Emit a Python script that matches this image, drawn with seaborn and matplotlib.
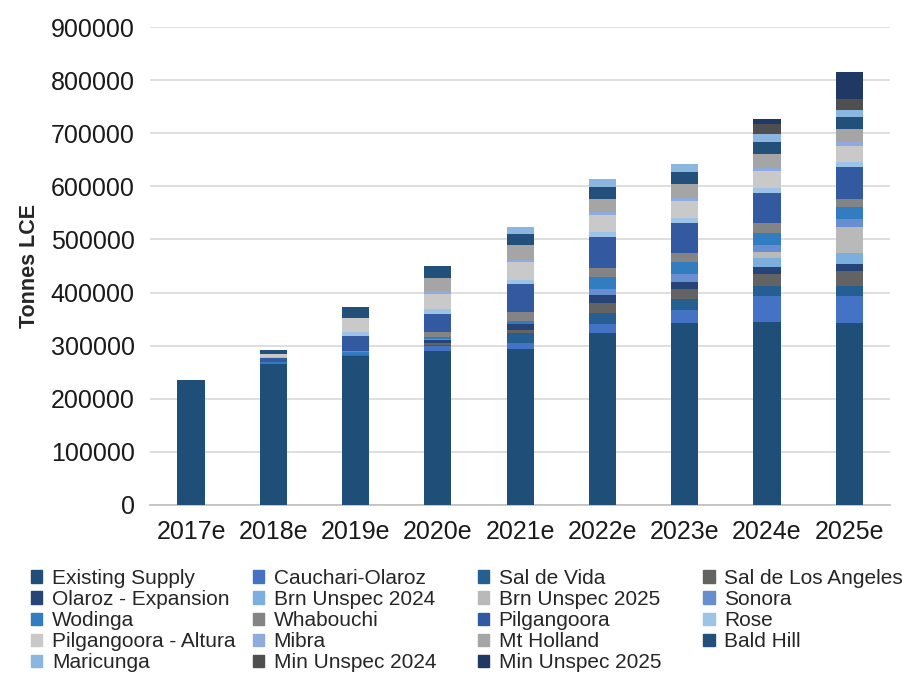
import pandas as pd
import matplotlib.pyplot as plt
import matplotlib.patches as mpatches
import seaborn as sns

years = ["2017e", "2018e", "2019e", "2020e", "2021e", "2022e", "2023e", "2024e", "2025e"]

# tonnes LCE per project, bottom of the stack first
existing_supply = [235000, 266000, 280000, 290000, 293000, 323000, 343000, 344000, 343000]
cauchari_olaroz = [0, 0, 0, 9000, 12500, 17500, 24000, 49500, 50000]
sal_de_vida = [0, 0, 0, 3000, 17500, 20000, 20000, 19500, 19500]
sal_de_los_angeles = [0, 0, 3000, 3500, 6000, 20000, 20500, 21500, 28000]
olaroz_expansion = [0, 0, 0, 4500, 12500, 14500, 11500, 13000, 12500]
brn_unspec_2024 = [0, 0, 0, 0, 0, 0, 0, 18000, 21500]
brn_unspec_2025 = [0, 0, 0, 0, 0, 0, 0, 11500, 49000]
sonora = [0, 0, 0, 2500, 0, 11500, 15000, 12500, 14000]
wodinga = [0, 3000, 5000, 4000, 4500, 23000, 22500, 23000, 24000]
whabouchi = [0, 0, 2000, 9000, 17500, 17000, 17000, 17500, 15500]
pilgangoora = [0, 8000, 28000, 34500, 52000, 58500, 57500, 57500, 58500]
rose = [0, 2000, 8000, 9000, 7500, 9500, 10000, 9500, 10500]
pilgangoora_altura = [0, 5000, 26000, 28000, 34500, 31500, 31500, 31500, 29500]
mibra = [0, 0, 0, 5000, 4500, 6000, 5500, 6500, 8000]
mt_holland = [0, 0, 0, 25000, 27000, 25000, 27000, 25500, 25000]
bald_hill = [0, 8000, 20000, 23000, 20500, 22000, 22000, 23000, 22000]
maricunga = [0, 0, 0, 0, 14000, 14500, 14500, 14500, 14000]
min_unspec_2024 = [0, 0, 0, 0, 0, 0, 0, 20000, 20500]
min_unspec_2025 = [0, 0, 0, 0, 0, 0, 0, 8000, 50000]

names = ["Existing Supply", "Cauchari-Olaroz", "Sal de Vida", "Sal de Los Angeles",
         "Olaroz - Expansion", "Brn Unspec 2024", "Brn Unspec 2025", "Sonora",
         "Wodinga", "Whabouchi", "Pilgangoora", "Rose", "Pilgangoora - Altura",
         "Mibra", "Mt Holland", "Bald Hill", "Maricunga", "Min Unspec 2024",
         "Min Unspec 2025"]
series = [existing_supply, cauchari_olaroz, sal_de_vida, sal_de_los_angeles,
          olaroz_expansion, brn_unspec_2024, brn_unspec_2025, sonora, wodinga,
          whabouchi, pilgangoora, rose, pilgangoora_altura, mibra, mt_holland,
          bald_hill, maricunga, min_unspec_2024, min_unspec_2025]
colors = ["#1F4E79", "#4472C4", "#255E91", "#636363", "#264478", "#7CAFDD",
          "#B9B9B9", "#698ED0", "#327DC2", "#848484", "#335AA1", "#9DC3E6",
          "#C9C9C9", "#8FAADC", "#A5A5A5", "#22507A", "#8AB6E0", "#4F4F4F",
          "#203864"]

sns.set_theme(style="white")
plt.rcParams['font.family'] = ['Liberation Sans', 'DejaVu Sans']

fig = plt.figure(figsize=(9.03, 6.75), dpi=100)
ax = fig.add_axes([0.166, 0.252, 0.820, 0.708])

bottom = [0] * len(years)
for name, vals, col in zip(names, series, colors):
    df = pd.DataFrame({'year': years, 'value': vals})
    sns.barplot(data=df, x='year', y='value', color=col, saturation=1,
                width=0.33, bottom=bottom, errorbar=None, ax=ax, zorder=3,
                edgecolor='none', linewidth=0)
    bottom = [b + v for b, v in zip(bottom, vals)]

ax.set_ylim(0, 900000)
ax.set_yticks(range(0, 900001, 100000))
ax.set_yticklabels([str(v) for v in range(0, 900001, 100000)])
ax.yaxis.grid(True, color='#D9D9D9', linewidth=1.2, zorder=0)
ax.set_axisbelow(True)
for s in ['left', 'top', 'right']:
    ax.spines[s].set_visible(False)
ax.spines['bottom'].set_color('#BFBFBF')
ax.spines['bottom'].set_linewidth(1.2)
ax.tick_params(axis='both', length=0, labelsize=18, colors='#1A1A1A', pad=11)
ax.set_xlabel('')
ax.set_ylabel('Tonnes LCE', fontsize=15.5, fontweight='bold', labelpad=8)

# legend: four evenly spaced columns, filled row by row
handles = [mpatches.Patch(color=c, label=n) for n, c in zip(names, colors)]
col_x = [0.0343, 0.2800, 0.5290, 0.7790]
for c, x0 in enumerate(col_x):
    idx = list(range(c, len(names), 4))
    leg = fig.legend([handles[i] for i in idx], [names[i] for i in idx],
                     loc='upper left', bbox_to_anchor=(x0, 0.157), ncol=1,
                     frameon=False, fontsize=15, handlelength=0.55,
                     handleheight=0.55, handletextpad=0.45, labelspacing=0.1,
                     borderaxespad=0, borderpad=0)

fig.savefig('out.png', dpi=100)
